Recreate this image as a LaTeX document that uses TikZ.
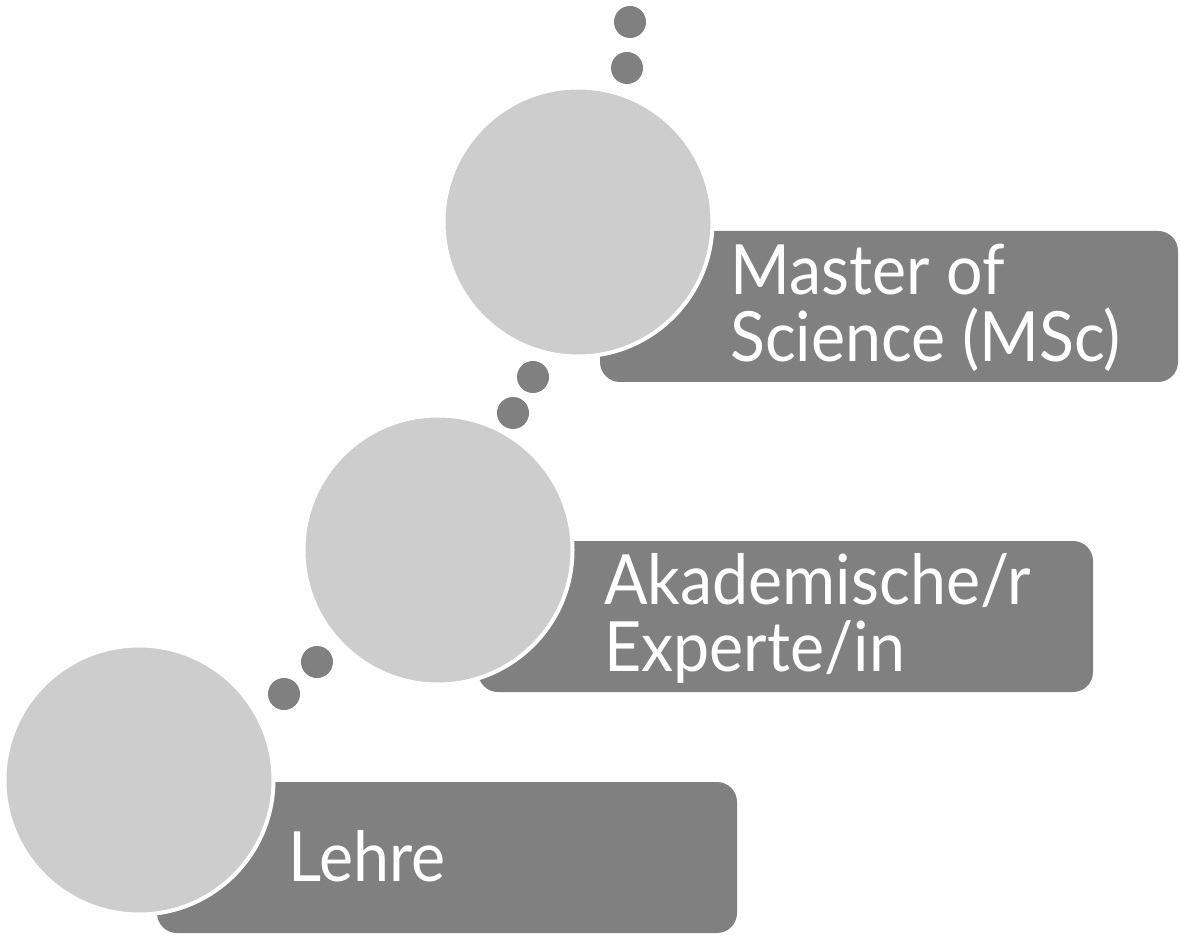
\documentclass[tikz,border=0pt]{standalone}
\usepackage{fontspec}
\setmainfont{Lato}[FakeStretch=0.93]
\definecolor{circ}{HTML}{CDCDCD}
\definecolor{boxc}{HTML}{808080}
\begin{document}
\begin{tikzpicture}[x=0.75pt,y=-0.75pt,
  bar/.style={fill=boxc,draw=none,rounded corners=15pt},
  ball/.style={circle,fill=circ,draw=white,line width=3pt,minimum size=269*0.75pt,inner sep=0pt},
  dot/.style={circle,fill=boxc,draw=none,minimum size=32*0.75pt,inner sep=0pt},
  lbl/.style={anchor=base west,text=white,inner sep=0pt,font=\fontsize{52}{60}\selectfont}]
\useasboundingbox (0,0) rectangle (1181,937);
% bars
\fill[bar] (157,782) rectangle (737,933);
\fill[bar] (478,541) rectangle (1093,692);
\fill[bar] (600,231) rectangle (1178,382);
% circles
\node[ball] (c1) at (139,780) {};
\node[ball] (c2) at (438,550) {};
\node[ball] (c3) at (578,222) {};
% dots
\node[dot] (d1) at (284,694) {};
\node[dot] (d2) at (317,662) {};
\node[dot] (d3) at (513,413) {};
\node[dot] (d4) at (533,377) {};
\node[dot] (d5) at (627,68) {};
\node[dot] (d6) at (630,22) {};
% labels
\node[lbl] (t1) at (288,881) {Lehre};
\node[lbl] (t2a) at (604,604) {Akademische/r};
\node[lbl] (t2b) at (604,671) {Experte/in};
\node[lbl] (t3a) at (730,295) {Master of};
\node[lbl] (t3b) at (730,362) {Science (MSc)};
\end{tikzpicture}
\end{document}
